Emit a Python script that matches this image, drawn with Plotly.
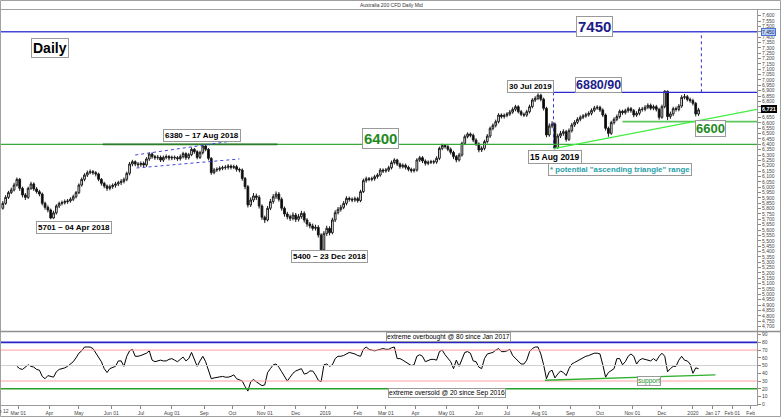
import pandas as pd
import plotly.graph_objects as go

# ---------------- data (one candle every 2 trading days) -------------
price_start = "2018-02-12"
close = [5803, 5849, 5905, 5949, 5974, 6020, 6073, 5989, 5927, 5905,
         5989, 6030, 5983, 5958, 5936, 5849, 5812, 5787, 5712, 5760,
         5824, 5849, 5855, 5865, 5871, 5887, 5911, 5949, 6020, 6073,
         6113, 6135, 6145, 6135, 6123, 6073, 6036, 6011, 5989, 6005,
         6017, 6030, 6042, 6054, 6073, 6129, 6216, 6238, 6216, 6210,
         6222, 6207, 6263, 6310, 6285, 6275, 6278, 6253, 6278, 6285,
         6272, 6278, 6275, 6266, 6285, 6313, 6275, 6303, 6353, 6331,
         6278, 6322, 6384, 6353, 6269, 6135, 6160, 6166, 6176, 6182,
         6185, 6197, 6185, 6191, 6166, 6160, 6082, 6005, 5834, 5880,
         5918, 5905, 5824, 5719, 5694, 5803, 5865, 5911, 5936, 5887,
         5803, 5750, 5725, 5709, 5740, 5700, 5725, 5756, 5694, 5656,
         5638, 5616, 5625, 5554, 5415, 5569, 5616, 5575, 5694, 5762,
         5793, 5812, 5849, 5896, 5887, 5880, 5893, 5874, 5958, 6061,
         6079, 6073, 6079, 6098, 6113, 6160, 6151, 6160, 6182, 6229,
         6254, 6216, 6191, 6204, 6185, 6166, 6154, 6160, 6254, 6275,
         6244, 6222, 6232, 6238, 6235, 6269, 6362, 6390, 6378, 6353,
         6325, 6285, 6254, 6300, 6409, 6471, 6496, 6484, 6440, 6403,
         6347, 6362, 6425, 6477, 6549, 6577, 6611, 6673, 6658, 6670,
         6683, 6701, 6726, 6751, 6704, 6680, 6673, 6704, 6751, 6813,
         6829, 6858, 6820, 6736, 6487, 6571, 6589, 6368, 6477, 6502,
         6518, 6446, 6527, 6580, 6605, 6633, 6652, 6664, 6676, 6689,
         6717, 6739, 6745, 6720, 6673, 6549, 6502, 6602, 6633, 6658,
         6708, 6695, 6714, 6732, 6714, 6673, 6689, 6726, 6726, 6745,
         6764, 6736, 6751, 6726, 6652, 6751, 6895, 6658, 6683, 6732,
         6726, 6757, 6838, 6844, 6819, 6807, 6782, 6683, 6721]

high = [5830, 5870, 5925, 5965, 5995, 6040, 6090, 6085, 6005, 5945,
        6005, 6050, 6045, 6000, 5975, 5950, 5865, 5830, 5800, 5780,
        5840, 5865, 5875, 5885, 5890, 5905, 5930, 5965, 6035, 6090,
        6130, 6155, 6165, 6160, 6150, 6135, 6085, 6050, 6025, 6025,
        6035, 6050, 6060, 6075, 6090, 6145, 6235, 6255, 6250, 6235,
        6240, 6240, 6280, 6325, 6325, 6300, 6300, 6295, 6295, 6305,
        6300, 6295, 6295, 6290, 6305, 6330, 6325, 6320, 6370, 6365,
        6345, 6340, 6395, 6392, 6365, 6280, 6180, 6185, 6195, 6200,
        6205, 6215, 6212, 6210, 6208, 6182, 6175, 6095, 6020, 5905,
        5945, 5940, 5925, 5840, 5735, 5825, 5890, 5935, 5960, 5955,
        5905, 5820, 5770, 5745, 5765, 5760, 5750, 5780, 5775, 5710,
        5675, 5660, 5650, 5645, 5570, 5590, 5640, 5635, 5715, 5785,
        5815, 5835, 5870, 5915, 5912, 5905, 5912, 5910, 5975, 6080,
        6098, 6095, 6098, 6115, 6130, 6178, 6175, 6178, 6200, 6248,
        6270, 6265, 6230, 6222, 6220, 6200, 6182, 6178, 6270, 6292,
        6290, 6260, 6250, 6255, 6255, 6288, 6378, 6405, 6400, 6392,
        6370, 6340, 6300, 6320, 6425, 6490, 6512, 6510, 6500, 6455,
        6418, 6382, 6442, 6495, 6565, 6595, 6630, 6690, 6688, 6688,
        6700, 6720, 6745, 6768, 6765, 6720, 6695, 6722, 6770, 6830,
        6848, 6875, 6872, 6835, 6750, 6595, 6615, 6605, 6498, 6525,
        6540, 6535, 6548, 6600, 6625, 6652, 6670, 6682, 6695, 6708,
        6735, 6758, 6765, 6760, 6735, 6688, 6565, 6620, 6652, 6678,
        6725, 6722, 6732, 6750, 6748, 6730, 6708, 6745, 6748, 6765,
        6782, 6780, 6770, 6768, 6740, 6770, 6905, 6902, 6705, 6750,
        6752, 6775, 6858, 6870, 6860, 6835, 6825, 6795, 6740]

low = [5775, 5790, 5835, 5890, 5935, 5960, 6005, 5965, 5905, 5880,
       5890, 5975, 5965, 5940, 5915, 5830, 5790, 5765, 5701, 5705,
       5745, 5805, 5830, 5838, 5845, 5855, 5870, 5895, 5935, 6005,
       6055, 6095, 6120, 6115, 6100, 6055, 6015, 5990, 5965, 5970,
       5985, 5995, 6010, 6020, 6035, 6055, 6110, 6195, 6195, 6185,
       6190, 6185, 6190, 6245, 6265, 6255, 6255, 6235, 6235, 6260,
       6250, 6252, 6255, 6245, 6248, 6268, 6255, 6258, 6290, 6312,
       6260, 6262, 6305, 6335, 6250, 6115, 6120, 6142, 6148, 6158,
       6162, 6165, 6165, 6168, 6145, 6138, 6060, 5980, 5810, 5815,
       5860, 5880, 5800, 5695, 5665, 5680, 5785, 5845, 5890, 5865,
       5780, 5725, 5700, 5685, 5690, 5675, 5680, 5705, 5670, 5630,
       5615, 5595, 5595, 5530, 5400, 5405, 5545, 5550, 5560, 5675,
       5745, 5772, 5795, 5830, 5865, 5860, 5862, 5855, 5860, 5945,
       6042, 6055, 6055, 6060, 6080, 6098, 6132, 6135, 6142, 6165,
       6212, 6198, 6172, 6175, 6165, 6148, 6135, 6136, 6145, 6236,
       6225, 6202, 6205, 6215, 6215, 6218, 6252, 6345, 6360, 6335,
       6305, 6262, 6232, 6238, 6285, 6392, 6455, 6465, 6420, 6385,
       6325, 6328, 6345, 6408, 6460, 6530, 6558, 6595, 6640, 6640,
       6652, 6665, 6685, 6708, 6688, 6662, 6655, 6656, 6688, 6735,
       6795, 6812, 6800, 6715, 6465, 6470, 6550, 6352, 6358, 6458,
       6480, 6425, 6430, 6510, 6562, 6588, 6615, 6635, 6648, 6658,
       6670, 6700, 6722, 6702, 6655, 6528, 6470, 6488, 6585, 6615,
       6640, 6675, 6678, 6695, 6695, 6652, 6655, 6670, 6705, 6708,
       6728, 6718, 6718, 6706, 6630, 6638, 6735, 6625, 6638, 6665,
       6706, 6708, 6740, 6820, 6800, 6788, 6762, 6660, 6665]

rsi_start = "2018-02-28"
rsi = [49, 46, 45, 48, 51, 49, 48, 45, 44, 36,
       33, 37, 36, 35, 42, 45, 46, 47, 49, 52,
       55, 60, 66, 69, 74, 74, 74, 72, 66, 60,
       55, 46, 41, 46, 48, 49, 56, 56, 49, 62,
       69, 71, 62, 62, 63, 64, 66, 69, 57, 55,
       56, 57, 56, 56, 58, 59, 57, 55, 58, 61,
       56, 59, 67, 57, 49, 56, 62, 55, 44, 33,
       34, 35, 35, 36, 35, 35, 36, 38, 33, 31,
       30, 23, 17, 29, 32, 29, 26, 24, 25, 41,
       46, 51, 52, 48, 42, 35, 30, 35, 40, 43,
       45, 46, 39, 40, 43, 43, 38, 31, 29, 51,
       52, 49, 51, 59, 62, 62, 63, 65, 67, 66,
       65, 63, 62, 71, 74, 71, 70, 69, 70, 71,
       72, 71, 71, 73, 74, 59, 59, 57, 55, 52,
       50, 51, 62, 64, 62, 55, 57, 58, 58, 57,
       68, 70, 64, 59, 55, 46, 57, 49, 59, 67,
       68, 66, 56, 55, 48, 46, 59, 65, 66, 67,
       70, 72, 68, 68, 69, 71, 63, 59, 55, 52,
       52, 57, 68, 72, 74, 74, 65, 51, 33, 42,
       44, 34, 39, 43, 41, 37, 46, 52, 54, 56,
       59, 61, 62, 63, 65, 66, 66, 65, 51, 35,
       41, 44, 46, 59, 59, 51, 55, 62, 65, 62,
       52, 57, 59, 58, 57, 56, 59, 56, 62, 66,
       62, 42, 46, 49, 49, 57, 62, 57, 56, 52,
       40, 47, 46]

tick_dates = ["2018-03-01", "2018-04-02", "2018-05-01", "2018-06-01",
              "2018-07-02", "2018-08-01", "2018-09-03", "2018-10-01", "2018-11-01",
              "2018-12-03", "2019-01-01", "2019-02-01", "2019-03-01", "2019-04-01",
              "2019-05-01", "2019-06-03", "2019-07-01", "2019-08-01", "2019-09-02",
              "2019-10-01", "2019-11-01", "2019-12-02", "2020-01-01", "2020-01-21",
              "2020-02-10", "2020-02-27"]
tick_text = ["Mar 01", "Apr", "May", "Jun 01", "Jul", "Aug 01", "Sep", "Oct",
             "Nov 01", "Dec", "2019", "Feb", "Mar 01", "Apr", "May 01", "Jun", "Jul",
             "Aug 01", "Sep", "Oct", "Nov 01", "Dec", "2020", "Jan 17", "Feb 01", "Feb"]
first_tick_text = "Feb 12"

price_ticks = list(range(4700, 7601, 50))
price_tick_hidden = [6700, 6750, 7450]  # covered by the highlighted axis labels
rsi_ticks = list(range(0, 91, 10))

# ---------------- build ----------------
dates = pd.date_range(price_start, periods=len(close), freq="2B")
rsi_dates = pd.date_range(rsi_start, periods=len(rsi), freq="2B")
opens = [close[0]] + close[:-1]

X_END = "2020-03-04 12:00"
FONT = "Liberation Sans, Arial, sans-serif"


def bd(n):
    return (pd.Timestamp(price_start) + pd.offsets.BDay(n)).strftime("%Y-%m-%d")


fig = go.Figure()
fig.add_trace(go.Candlestick(
    x=dates, open=opens, high=high, low=low, close=close,
    increasing=dict(line=dict(color="#1a1a1a", width=1), fillcolor="#ffffff"),
    decreasing=dict(line=dict(color="#1a1a1a", width=1), fillcolor="#000000"),
    whiskerwidth=0, hoverinfo="skip", xaxis="x", yaxis="y"))
fig.add_trace(go.Scatter(x=rsi_dates, y=rsi, mode="lines",
                         line=dict(color="#000000", width=1),
                         hoverinfo="skip", xaxis="x", yaxis="y2"))

W, H_TOP, H_BOT = 757.0, 10.0, 405.0
PH = H_BOT - H_TOP


def px(x):
    return x / W


def py(y):
    return (H_BOT - y) / PH


shapes = []


def hline(y, x0, x1, color, width=1, dash="solid", yref="y"):
    shapes.append(dict(type="line", xref="x", yref=yref, x0=x0, x1=x1, y0=y, y1=y,
                       line=dict(color=color, width=width, dash=dash), layer="above"))


def seg(x0, y0, x1, y1, color, width=1, dash="solid", yref="y"):
    shapes.append(dict(type="line", xref="x", yref=yref, x0=x0, x1=x1, y0=y0, y1=y1,
                       line=dict(color=color, width=width, dash=dash), layer="above"))


# price panel lines
hline(7450, price_start, X_END, "#4848d8", 1.3)
hline(6885, bd(381), X_END, "#2a2ad0", 1.3)
seg(bd(498), 6885, bd(498), 7450, "#3030d0", 1, "dot")
seg(bd(393), 6885, bd(393), 6362, "#3030d0", 1, "dot")
hline(6400, price_start, X_END, "#3aa83a", 1.2)
hline(6400, bd(73), bd(197), "#2d7d2d", 1.8)
hline(6612, bd(442), X_END, "#5cc85c", 1.8)
seg(bd(393), 6360, X_END, 6725, "#40ee40", 1.3)
seg(bd(96), 6300, bd(165), 6431, "#4444dd", 1, "dot")
seg(bd(97), 6179, bd(170), 6263, "#4444dd", 1, "dot")

# RSI panel lines
hline(80, price_start, X_END, "#2424c8", 1.6, yref="y2")
hline(70, price_start, X_END, "#ffa0a0", 1, yref="y2")
hline(50, price_start, X_END, "#cfcfcf", 1, yref="y2")
hline(30, price_start, X_END, "#ffa0a0", 1, yref="y2")
hline(20, price_start, X_END, "#2aa02a", 1.6, yref="y2")
seg(bd(387), 31, bd(508), 38, "#30b030", 1.3, yref="y2")

# frames (paper coordinates)
RIGHT = 781 / W
shapes.append(dict(type="rect", xref="paper", yref="paper", x0=px(0.5), x1=px(780.5),
                   y0=py(416.5), y1=py(0.5), line=dict(color="#a0a0a0", width=1), layer="above"))
shapes.append(dict(type="line", xref="paper", yref="paper", x0=0, x1=RIGHT,
                   y0=py(9.5), y1=py(9.5), line=dict(color="#a0a0a0", width=1), layer="above"))
shapes.append(dict(type="line", xref="paper", yref="paper", x0=0, x1=RIGHT,
                   y0=py(331.5), y1=py(331.5), line=dict(color="#909090", width=1.6), layer="above"))

annotations = []


def box(text, x, y, size, color="#000000", bold=True, border="#9a9a9a", bg="#ffffff",
        pad=1, bw=1, xanchor="center"):
    t = "<b>%s</b>" % text if bold else text
    annotations.append(dict(text=t, x=px(x), y=py(y), xref="paper", yref="paper",
                            xanchor=xanchor, yanchor="middle", showarrow=False,
                            font=dict(size=size, color=color, family=FONT),
                            bordercolor=border, borderwidth=bw, bgcolor=bg, borderpad=pad))


NONE = "rgba(0,0,0,0)"
box("Daily", 50, 48.5, 14)
box("7450", 594.5, 26.5, 15, "#1c1c8a")
box("6880/90", 598, 85, 12.5, "#1c1c8a", pad=0)
box("6400", 380.5, 138.5, 15, "#1f8a1f")
box("6600", 710.5, 128, 13, "#1f8a1f", pad=0)
box("30 Jul 2019", 530.5, 86, 8)
box("6380 ~ 17 Aug 2018", 201.5, 135, 8)
box("5701 ~ 04 Apr 2018", 73.5, 227.5, 8)
box("5400 ~ 23 Dec 2018", 329.5, 256.5, 8)
box("15 Aug 2019", 554.5, 157, 8.5)
box("* potential \"ascending triangle\" range", 619.5, 169, 7.8, "#1fa0a8")
box("extreme overbought @ 80 since Jan 2017", 448.5, 336.5, 6.6, bold=False, pad=0)
box("extreme oversold @ 20 since Sep 2016", 447, 392.5, 6.6, bold=False, pad=0)
box("support", 649, 381, 6.6, "#1f8a1f", bold=False, pad=0)
box("Australia 200 CFD Daily Mid", 391, 4.8, 5, "#333333", bold=False, border=NONE,
    bg=NONE, pad=0, bw=0)
# first date label sits on the left edge, partly outside the frame as in the reference
box(first_tick_text, 9, 410.5, 5, "#444444", bold=False, border=NONE, bg=NONE, pad=0, bw=0,
    xanchor="right")
box("7,450", 768.5, 32, 5, "#1a1a60", bold=False, border="#5070d0", bg="#b8d4f4", pad=0)
box("6,721", 768.5, 108.5, 5.5, "#ffffff", bold=True, border="#000000", bg="#000000", pad=0)

price_tick_text = ["" if v in price_tick_hidden else "{:,}".format(v) for v in price_ticks]

fig.update_layout(
    width=781, height=417,
    margin=dict(l=0, r=24, t=10, b=12),
    paper_bgcolor="#ffffff", plot_bgcolor="#ffffff",
    showlegend=False, boxgap=0.12,
    font=dict(family=FONT, size=6, color="#444444"),
    shapes=shapes, annotations=annotations,
    xaxis=dict(type="date", range=[price_start, X_END],
               rangebreaks=[dict(bounds=["sat", "mon"])],
               rangeslider=dict(visible=False), anchor="y2",
               tickmode="array", tickvals=tick_dates, ticktext=tick_text,
               ticks="outside", ticklen=3, tickcolor="#888888",
               tickfont=dict(size=5, color="#444444", family=FONT),
               showgrid=False, zeroline=False, showline=True, linecolor="#9a9a9a",
               linewidth=1),
    yaxis=dict(domain=[py(331), 1], range=[4658, 7653], side="right", anchor="x",
               tickmode="array", tickvals=price_ticks, ticktext=price_tick_text,
               ticks="outside", ticklen=3, tickcolor="#888888",
               tickfont=dict(size=5, color="#444444", family=FONT),
               showgrid=False, zeroline=False, showline=True, linecolor="#9a9a9a",
               linewidth=1),
    yaxis2=dict(domain=[0, py(332)], range=[-1, 93.4], side="right", anchor="x",
                tickmode="array", tickvals=rsi_ticks,
                ticks="outside", ticklen=3, tickcolor="#888888",
                tickfont=dict(size=5, color="#444444", family=FONT),
                showgrid=False, zeroline=False, showline=True, linecolor="#9a9a9a",
                linewidth=1),
)

fig.write_html("out.html")
